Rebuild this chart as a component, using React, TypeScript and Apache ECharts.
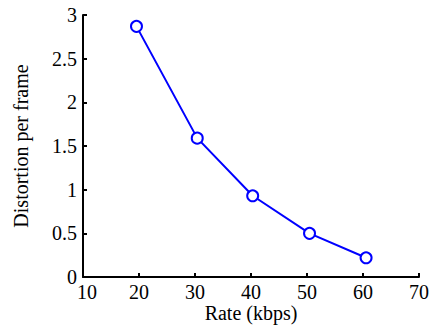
import React, { useEffect, useRef } from "react";
import * as echarts from "echarts";

const rates = [19.55, 30.4, 40.3, 50.45, 60.55];
const distortion = [2.87, 1.59, 0.93, 0.5, 0.22];
const xTitle = "Rate (kbps)";
const yTitle = "Distortion per frame";

export default function App() {
  const ref = useRef<HTMLDivElement>(null);
  useEffect(() => {
    if (!ref.current) return;
    const chart = echarts.init(ref.current, null, { renderer: "svg" });
    const font = "Liberation Serif";
    const textBase = { fontFamily: font, fontSize: 20, color: "#000" };
    const axisCommon = {
      axisLine: { show: true, lineStyle: { color: "#000", width: 2 } },
      axisTick: { show: true, inside: true, length: 4, lineStyle: { color: "#000", width: 2 } },
      splitLine: { show: false },
      nameLocation: "middle" as const,
      nameMoveOverlap: false,
      nameTextStyle: { ...textBase },
    };
    chart.setOption({
      animation: false,
      backgroundColor: "#fff",
      textStyle: { fontFamily: font },
      grid: { left: 83, right: 8, top: 15, bottom: 50, containLabel: false },
      xAxis: {
        type: "value",
        min: 10,
        max: 70,
        interval: 10,
        name: xTitle,
        nameGap: 26,
        ...axisCommon,
        axisLabel: {
          ...textBase,
          margin: 5,
          formatter: (v: number) => (v === 10 ? `{m|${v}}` : `${v}`),
          rich: { m: { ...textBase, padding: [0, 0, 0, 8] } },
        },
      },
      yAxis: {
        type: "value",
        min: 0,
        max: 3,
        interval: 0.5,
        name: yTitle,
        nameGap: 52,
        nameRotate: 90,
        ...axisCommon,
        axisLabel: { ...textBase, margin: 6 },
      },
      series: [
        {
          type: "line",
          data: rates.map((r, i) => [r, distortion[i]]),
          symbol: "emptyCircle",
          symbolSize: 11,
          showSymbol: true,
          lineStyle: { color: "#0000ff", width: 2 },
          itemStyle: { color: "#0000ff", borderColor: "#0000ff", borderWidth: 2 },
        },
      ],
    });
    return () => chart.dispose();
  }, []);
  return (
    <div
      ref={ref}
      style={{ position: "absolute", left: 0, top: 0, width: 432, height: 328 }}
    />
  );
}
